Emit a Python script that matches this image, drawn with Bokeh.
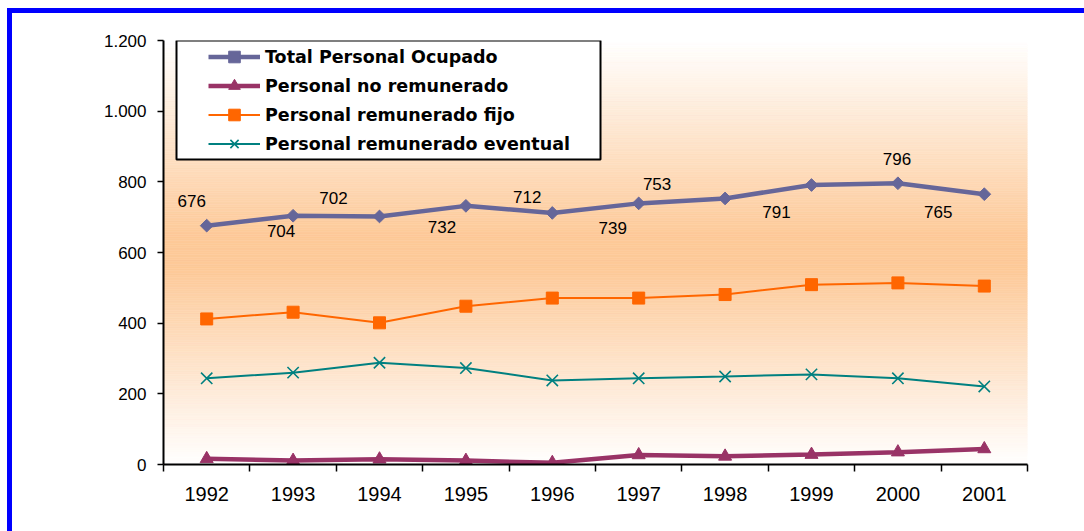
import numpy as np
from bokeh.plotting import figure
from bokeh.models import (FixedTicker, Legend, LegendItem, BoxAnnotation,
                          ColumnDataSource, Range1d)
from bokeh.core.properties import value
from bokeh.embed import file_html
from bokeh.resources import INLINE

# ---------------- data ----------------
years = [1992, 1993, 1994, 1995, 1996, 1997, 1998, 1999, 2000, 2001]
total_ocupado = [676, 704, 702, 732, 712, 739, 753, 791, 796, 765]
no_remunerado = [16, 11, 15, 11, 5, 27, 23, 28, 35, 44]
remunerado_fijo = [412, 431, 401, 448, 471, 471, 481, 509, 514, 505]
remunerado_eventual = [244, 260, 288, 273, 238, 244, 249, 255, 244, 221]
series_names = ["Total Personal Ocupado", "Personal no remunerado",
                "Personal remunerado fijo", "Personal remunerado eventual"]
y_ticks = [0, 200, 400, 600, 800, 1000, 1200]

# label placement (screen px offsets, style only)
label_dx = [-15, -12, -46, -24, -25, -26, -68, -35, -1, -46]
label_dy = [-25, 15, -18, 21, -16, 25, -14, 27, -24, 18]

# ---------------- figure ----------------
n = len(years)
xs = [i + 0.5 for i in range(n)]

W, H = 1072, 518
p = figure(width=W, height=H, output_backend="svg", toolbar_location=None,
           x_range=Range1d(0, n), y_range=Range1d(0, 1200),
           min_border_left=151, min_border_right=57,
           min_border_top=27, min_border_bottom=67)
p.styles = {"margin-left": "12px", "margin-top": "13px",
            "box-shadow": "-5px 0 0 0 #0000FF, 0 -5px 0 0 #0000FF, -5px -5px 0 0 #0000FF"}
p.outline_line_color = None
p.border_fill_color = "white"
p.background_fill_color = "white"
p.xgrid.visible = False
p.ygrid.visible = False

# background gradient (white -> peach -> white)
edges = np.linspace(0, 1200, 241)
mids = (edges[:-1] + edges[1:]) / 2
peach = np.array([253, 201, 152])
white = np.array([255, 255, 255])
cols = []
for m in mids:
    t = 1 - abs(m - 600) / 600.0
    t = min(1.0, t * 1.08)
    c = white + (peach - white) * t
    cols.append("#%02x%02x%02x" % tuple(int(round(v)) for v in c))
p.quad(left=0, right=n, bottom=edges[:-1], top=edges[1:],
       fill_color=cols, line_color=cols, line_width=0.6, level="underlay")

# ---------------- axes ----------------
xa = p.xaxis[0]
xa.ticker = FixedTicker(ticks=xs, minor_ticks=list(range(n + 1)))
xa.major_label_overrides = {x: str(y) for x, y in zip(xs, years)}
xa.major_tick_out = 0
xa.major_tick_in = 0
xa.minor_tick_out = 7
xa.minor_tick_in = 0
xa.minor_tick_line_color = "black"
xa.minor_tick_line_width = 1.5
xa.axis_line_color = "black"
xa.axis_line_width = 2
xa.major_label_standoff = 15
xa.major_label_text_font = "Liberation Sans"
xa.major_label_text_font_size = "20px"
xa.major_label_text_color = "black"

ya = p.yaxis[0]
ya.ticker = FixedTicker(ticks=y_ticks, minor_ticks=[])
ya.major_label_overrides = {t: f"{t:,}".replace(",", ".") for t in y_ticks}
ya.major_tick_out = 6
ya.major_tick_in = 0
ya.major_tick_line_color = "black"
ya.major_tick_line_width = 1.5
ya.axis_line_color = "black"
ya.axis_line_width = 2
ya.major_label_standoff = 11
ya.major_label_text_font = "Liberation Sans"
ya.major_label_text_font_size = "17px"
ya.major_label_text_color = "black"

# ---------------- series ----------------
c_tot, c_no, c_fijo, c_ev = "#666699", "#993366", "#FF6600", "#008080"

l1 = p.line(xs, total_ocupado, line_color=c_tot, line_width=4.5)
m1 = p.scatter(xs, total_ocupado, marker="square", angle=np.pi / 4, size=9,
               fill_color=c_tot, line_color=c_tot)
l2 = p.line(xs, no_remunerado, line_color=c_no, line_width=4.5)
m2 = p.scatter(xs, no_remunerado, marker="triangle", size=13,
               fill_color=c_no, line_color=c_no)
l3 = p.line(xs, remunerado_fijo, line_color=c_fijo, line_width=2)
m3 = p.scatter(xs, remunerado_fijo, marker="square", size=12,
               fill_color=c_fijo, line_color=c_fijo)
l4 = p.line(xs, remunerado_eventual, line_color=c_ev, line_width=2)
m4 = p.scatter(xs, remunerado_eventual, marker="x", size=16,
               line_color=c_ev, line_width=1.6)

# data labels for the total
lab_src = ColumnDataSource(dict(x=xs, y=total_ocupado,
                                text=[str(v) for v in total_ocupado],
                                dx=label_dx, dy=label_dy))
p.text(x="x", y="y", text="text", x_offset="dx", y_offset="dy", source=lab_src,
       text_font=value("Liberation Sans"), text_font_size="17px",
       text_align="center", text_baseline="middle", text_color="black")

# ---------------- legend ----------------
box = BoxAnnotation(left=0.1505, right=5.058, top=1200, bottom=863,
                    fill_color="white", fill_alpha=1.0,
                    line_color="black", line_width=2, line_alpha=1.0)
p.add_layout(box)

legend = Legend(items=[
    LegendItem(label=series_names[0], renderers=[l1, m1]),
    LegendItem(label=series_names[1], renderers=[l2, m2]),
    LegendItem(label=series_names[2], renderers=[l3, m3]),
    LegendItem(label=series_names[3], renderers=[l4, m4]),
], location=(45, 306), orientation="vertical",
    border_line_color=None, background_fill_alpha=0.0,
    padding=0, spacing=0, margin=0,
    glyph_width=52, glyph_height=29, label_height=29, label_standoff=5,
    label_text_font="DejaVu Sans", label_text_font_style="bold",
    label_text_font_size="17.5px", label_text_color="black",
    label_text_baseline="middle")
p.add_layout(legend)

open("out.html", "w").write(file_html(p, INLINE))
